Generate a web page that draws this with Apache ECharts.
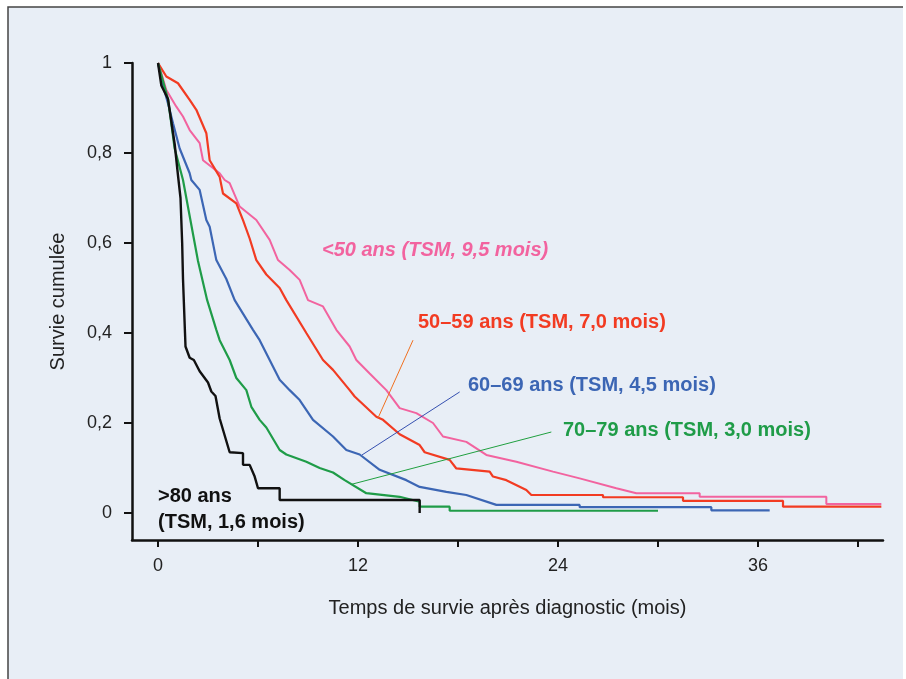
<!DOCTYPE html>
<html>
<head>
<meta charset="utf-8">
<script src="https://cdn.jsdelivr.net/npm/echarts@6/dist/echarts.min.js"></script>
<style>
html, body { margin: 0; padding: 0; background: #fff; }
#main { width: 906px; height: 679px; }
</style>
</head>
<body>
<div id="main"></div>
<script>
// groupes d'age et temps de survie median
var groups = ['<50 ans', '50–59 ans', '60–69 ans', '70–79 ans', '>80 ans'];
var medians = ['9,5', '7,0', '4,5', '3,0', '1,6'];

var xTicks = [0, 6, 12, 18, 24, 30, 36, 42];
var xLabels = [0, 12, 24, 36];
var yTicks = [0, 0.2, 0.4, 0.6, 0.8, 1];

// [mois, survie cumulee]
var survLt50 = [[0, 1], [0.2, 0.977], [0.5, 0.94], [1.1, 0.903], [1.5, 0.881], [1.9, 0.851], [2.5, 0.822],
    [2.7, 0.784], [3.7, 0.755], [4.0, 0.74], [4.3, 0.733], [4.9, 0.681], [5.9, 0.651], [6.7, 0.607],
    [7.2, 0.562], [7.9, 0.54], [8.5, 0.518], [9.0, 0.473], [9.9, 0.459], [10.7, 0.407], [11.5, 0.37],
    [11.9, 0.34], [12.7, 0.31], [13.7, 0.273], [14.5, 0.233], [15.5, 0.222], [16.5, 0.2], [17.1, 0.17],
    [18.5, 0.158], [19.7, 0.129], [21.5, 0.114], [23.7, 0.092], [25.3, 0.077], [27.5, 0.055],
    [28.7, 0.044], [32.5, 0.044], [32.5, 0.036], [40.1, 0.036], [40.1, 0.02], [43.4, 0.02]];

var surv50 = [[0, 1], [0.5, 0.97], [1.2, 0.955], [1.9, 0.918], [2.3, 0.896], [2.9, 0.844], [3.1, 0.784],
    [3.7, 0.747], [3.9, 0.71], [4.7, 0.688], [5.1, 0.651], [5.5, 0.61], [5.9, 0.562], [6.5, 0.53],
    [7.3, 0.5], [7.7, 0.473], [8.9, 0.4], [9.9, 0.34], [10.5, 0.318], [11.5, 0.273], [11.8, 0.259],
    [13.1, 0.214], [13.5, 0.207], [14.5, 0.175], [15.7, 0.151], [16.0, 0.135], [17.5, 0.118],
    [17.9, 0.099], [19.9, 0.092], [20.1, 0.081], [20.9, 0.073], [22.1, 0.051], [22.4, 0.04],
    [26.7, 0.04], [26.7, 0.035], [31.5, 0.035], [31.5, 0.027], [37.5, 0.027], [37.5, 0.014], [43.4, 0.014]];

var surv60 = [[0, 1], [0.3, 0.95], [0.6, 0.91], [0.9, 0.866], [1.3, 0.81], [1.9, 0.755], [2.0, 0.74],
    [2.5, 0.718], [2.9, 0.651], [3.1, 0.636], [3.5, 0.562], [4.1, 0.52], [4.6, 0.473], [5.7, 0.407],
    [6.1, 0.384], [6.7, 0.34], [7.3, 0.296], [7.9, 0.273], [8.5, 0.251], [9.3, 0.207], [10.5, 0.17],
    [11.3, 0.14], [12.1, 0.13], [13.3, 0.096], [14.9, 0.073], [15.7, 0.058], [17.3, 0.047], [18.5, 0.04],
    [20.3, 0.018], [25.3, 0.018], [25.3, 0.013], [33.2, 0.013], [33.2, 0.006], [36.7, 0.006]];

var surv70 = [[0, 1], [0.3, 0.96], [0.6, 0.92], [1.0, 0.81], [1.5, 0.74], [1.95, 0.65], [2.4, 0.56],
    [2.95, 0.473], [3.5, 0.407], [3.7, 0.384], [4.3, 0.34], [4.7, 0.3], [5.3, 0.273], [5.6, 0.236],
    [6.1, 0.207], [6.5, 0.19], [7.3, 0.14], [7.7, 0.13], [8.9, 0.114], [9.7, 0.1], [10.5, 0.09],
    [11.2, 0.073], [12.5, 0.044], [14.5, 0.036], [15.7, 0.025], [15.7, 0.014], [17.5, 0.014],
    [17.5, 0.005], [30, 0.005]];

var surv80 = [[0, 1], [0.2, 0.95], [0.6, 0.92], [1.0, 0.82], [1.2, 0.75], [1.35, 0.7], [1.45, 0.6],
    [1.5, 0.52], [1.55, 0.47], [1.62, 0.4], [1.65, 0.37], [1.9, 0.345], [2.15, 0.34], [2.5, 0.315],
    [3.0, 0.29], [3.2, 0.27], [3.45, 0.26], [3.7, 0.21], [4.1, 0.16], [4.3, 0.135], [5.1, 0.133],
    [5.1, 0.107], [5.5, 0.107], [5.8, 0.081], [6.0, 0.055], [7.3, 0.055], [7.3, 0.029], [15.7, 0.029],
    [15.7, 0]];

var colors = ['#f2639f', '#f23b22', '#3c66b4', '#1f9c48', '#111111'];
var FONT = '"Liberation Sans", Arial, sans-serif';

function courbe(data, color, width, leader) {
    var s = {
        type: 'line',
        data: data,
        showSymbol: false,
        silent: true,
        lineStyle: { color: color, width: width },
        itemStyle: { color: color }
    };
    if (leader) {
        s.markLine = {
            symbol: 'none',
            silent: true,
            label: { show: false },
            lineStyle: { color: leader.color, width: 1, type: 'solid' },
            data: [[{ coord: leader.from }, { coord: leader.to }]]
        };
    }
    return s;
}

function etiquette(i, x, y) {
    return {
        type: 'text', x: x, y: y, z: 10,
        style: {
            text: groups[i] + ' (TSM, ' + medians[i] + ' mois)',
            fill: colors[i],
            font: (i === 0 ? 'italic ' : '') + 'bold 20px ' + FONT,
            align: 'left', verticalAlign: 'middle'
        }
    };
}

var myChart = echarts.init(document.getElementById('main'));

var option = {
    animation: false,
    backgroundColor: '#ffffff',
    grid: { left: 132, right: 23, top: 63, bottom: 139 },
    xAxis: {
        type: 'value',
        min: -1.56,
        max: 43.5,
        axisLine: { onZero: false, lineStyle: { color: '#111', width: 2.5 } },
        axisTick: { show: true, customValues: xTicks, length: 7, lineStyle: { color: '#111', width: 2 } },
        axisLabel: { customValues: xLabels, fontSize: 18, color: '#222', margin: 17, fontFamily: FONT },
        splitLine: { show: false },
        name: 'Temps de survie après diagnostic (mois)',
        nameLocation: 'middle',
        nameGap: 58,
        nameTextStyle: { fontSize: 20, color: '#222', fontFamily: FONT }
    },
    yAxis: {
        type: 'value',
        min: -0.06,
        max: 1,
        axisLine: { show: true, onZero: false, lineStyle: { color: '#111', width: 2.5 } },
        axisTick: { show: true, customValues: yTicks, length: 8, lineStyle: { color: '#111', width: 2 } },
        axisLabel: {
            customValues: yTicks, fontSize: 18, color: '#222', margin: 20, fontFamily: FONT,
            formatter: function (v) { return String(v).replace('.', ','); }
        },
        splitLine: { show: false },
        name: 'Survie cumulée',
        nameLocation: 'middle',
        nameRotate: 90,
        nameGap: 64,
        nameTextStyle: { fontSize: 20, color: '#222', fontFamily: FONT }
    },
    graphic: [
        { type: 'rect', z: -10, shape: { x: 8, y: 7, width: 895, height: 680 }, style: { fill: '#e8eef6' } },
        { type: 'polyline', z: -9, shape: { points: [[8, 679], [8, 7], [903, 7]] }, style: { stroke: '#444', lineWidth: 1.5, fill: null } },
        etiquette(0, 322, 250),
        etiquette(1, 418, 322),
        etiquette(2, 468, 385),
        etiquette(3, 563, 430),
        { type: 'text', x: 158, y: 496, z: 10, style: { text: groups[4], fill: colors[4], font: 'bold 20px ' + FONT, align: 'left', verticalAlign: 'middle' } },
        { type: 'text', x: 158, y: 522, z: 10, style: { text: '(TSM, ' + medians[4] + ' mois)', fill: colors[4], font: 'bold 20px ' + FONT, align: 'left', verticalAlign: 'middle' } }
    ],
    series: [
        courbe(survLt50, colors[0], 2, null),
        courbe(surv50, colors[1], 2.2, { color: '#f07020', from: [15.3, 0.384], to: [13.2, 0.211] }),
        courbe(surv60, colors[2], 2.2, { color: '#3550b0', from: [18.1, 0.269], to: [12.24, 0.129] }),
        courbe(surv70, colors[3], 2.2, { color: '#20a040', from: [23.6, 0.18], to: [11.64, 0.064] }),
        courbe(surv80, colors[4], 2.4, null)
    ]
};

myChart.setOption(option);
</script>
</body>
</html>
